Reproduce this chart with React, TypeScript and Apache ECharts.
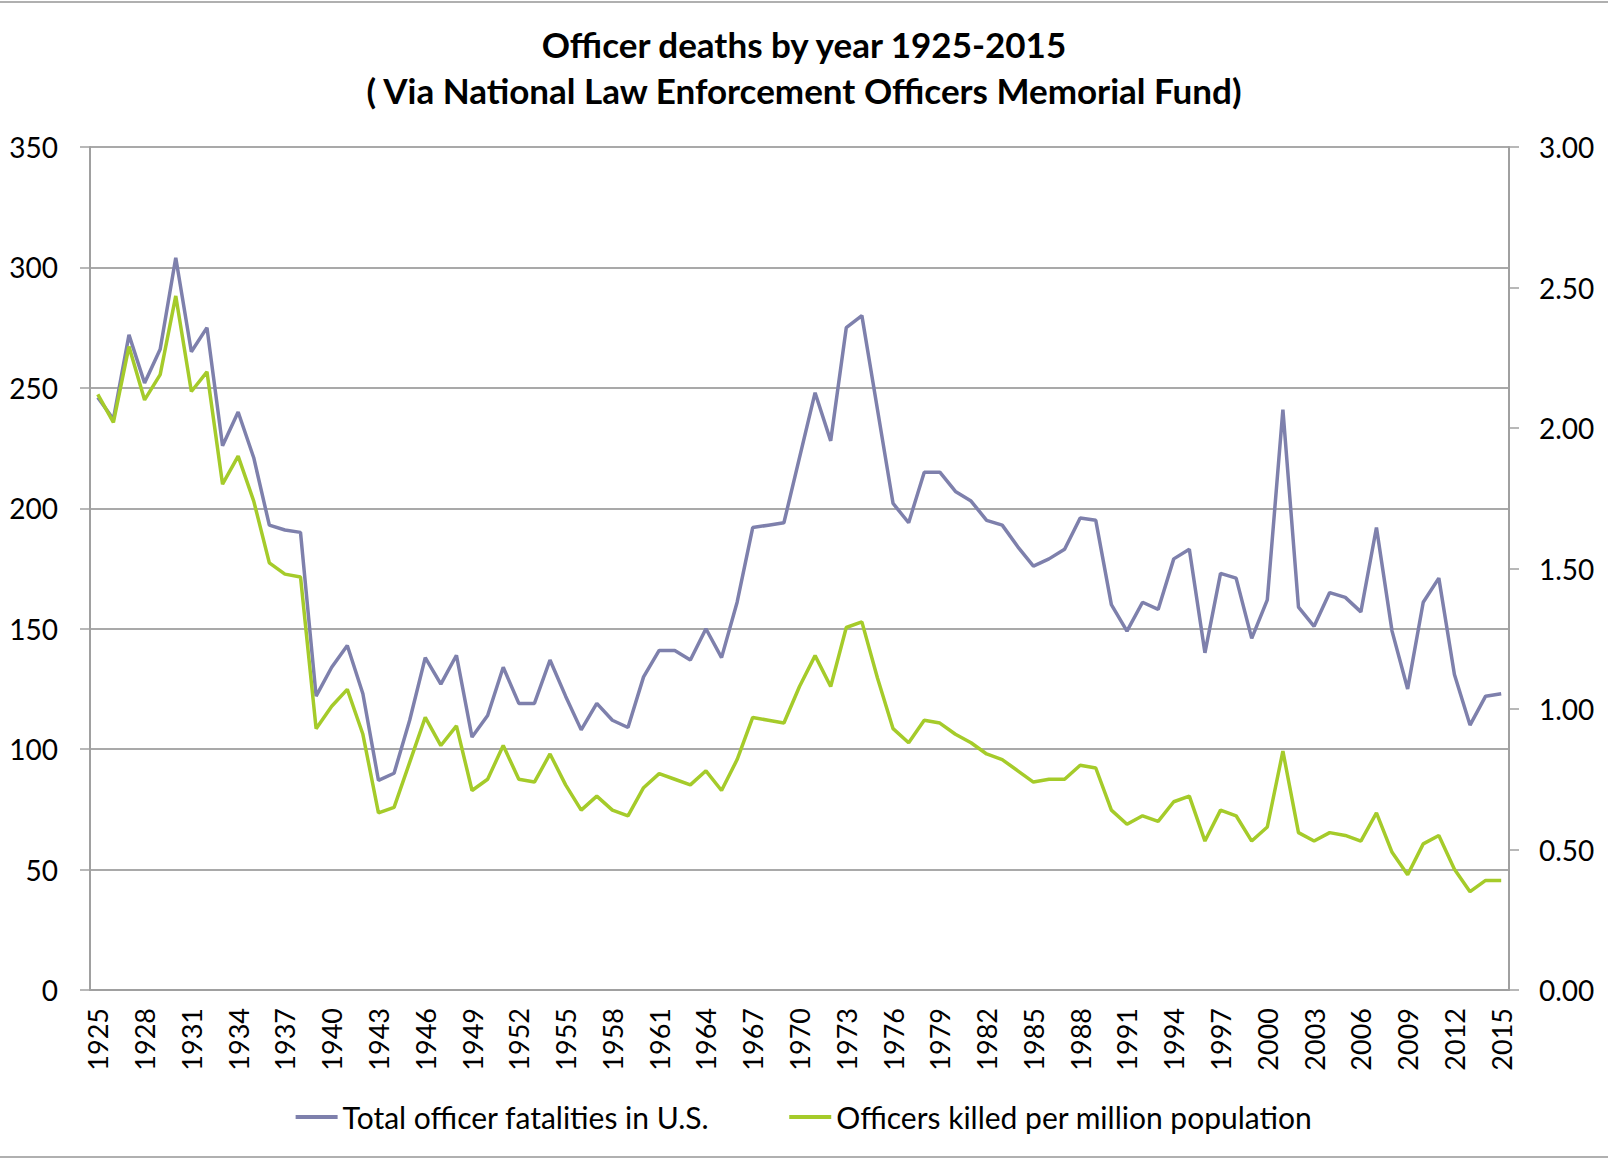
import React, { useEffect, useRef } from "react";
import * as echarts from "echarts";

const years: string[] = [];
for (let y = 1925; y <= 2015; y++) years.push(String(y));

const totalFatalities = [
  246, 237, 272, 252, 266, 304, 265, 275, 226, 240,
  221, 193, 191, 190, 122, 134, 143, 123, 87, 90,
  112, 138, 127, 139, 105, 114, 134, 119, 119, 137,
  122, 108, 119, 112, 109, 130, 141, 141, 137, 150,
  138, 161, 192, 193, 194, 221, 248, 228, 275, 280,
  241, 202, 194, 215, 215, 207, 203, 195, 193, 184,
  176, 179, 183, 196, 195, 160, 149, 161, 158, 179,
  183, 140, 173, 171, 146, 162, 241, 159, 151, 165,
  163, 157, 192, 149, 125, 161, 171, 131, 110, 122,
  123,
];

const perMillion = [
  2.12, 2.02, 2.29, 2.10, 2.19, 2.47, 2.13, 2.20, 1.80, 1.90,
  1.74, 1.52, 1.48, 1.47, 0.93, 1.01, 1.07, 0.91, 0.63, 0.65,
  0.81, 0.97, 0.87, 0.94, 0.71, 0.75, 0.87, 0.75, 0.74, 0.84,
  0.73, 0.64, 0.69, 0.64, 0.62, 0.72, 0.77, 0.75, 0.73, 0.78,
  0.71, 0.82, 0.97, 0.96, 0.95, 1.08, 1.19, 1.08, 1.29, 1.31,
  1.11, 0.93, 0.88, 0.96, 0.95, 0.91, 0.88, 0.84, 0.82, 0.78,
  0.74, 0.75, 0.75, 0.80, 0.79, 0.64, 0.59, 0.62, 0.60, 0.67,
  0.69, 0.53, 0.64, 0.62, 0.53, 0.58, 0.85, 0.56, 0.53, 0.56,
  0.55, 0.53, 0.63, 0.49, 0.41, 0.52, 0.55, 0.43, 0.35, 0.39,
  0.39,
];

const seriesNames = ["Total officer fatalities in U.S.", "Officers killed per million population"];
const titleText = "Officer deaths by year 1925-2015\n( Via National Law Enforcement Officers Memorial Fund)";

const FONT = "Lato, 'Open Sans', sans-serif";

export default function App() {
  const ref = useRef<HTMLDivElement>(null);
  useEffect(() => {
    if (!ref.current) return;
    const chart = echarts.init(ref.current, null, { renderer: "svg" });
    chart.setOption({
      animation: false,
      backgroundColor: "#ffffff",
      textStyle: { fontFamily: FONT },
      title: {
        text: titleText,
        left: "center",
        top: 16,
        textStyle: {
          fontFamily: FONT,
          fontWeight: "bold",
          fontSize: 35,
          lineHeight: 46,
          color: "#000",
        },
      },
      legend: {
        bottom: 23,
        left: "center",
        icon: "rect",
        itemWidth: 42,
        itemHeight: 4,
        itemGap: 80,
        textStyle: { fontFamily: FONT, fontSize: 30, color: "#000" },
        data: seriesNames,
      },
      grid: {
        left: 90,
        right: 99,
        top: 147,
        bottom: 170,
        outerBoundsMode: "none",
      },
      xAxis: {
        type: "category",
        data: years,
        boundaryGap: true,
        axisLine: { lineStyle: { color: "#a0a0a0", width: 2 } },
        axisTick: { interval: 0, length: 8, lineStyle: { color: "#a0a0a0", width: 1.5 } },
        axisLabel: {
          interval: 2,
          rotate: 90,
          margin: 18,
          fontSize: 27,
          fontFamily: FONT,
          color: "#000",
        },
        splitLine: { show: false },
      },
      yAxis: [
        {
          type: "value",
          min: 0,
          max: 350,
          interval: 50,
          axisLine: { show: true, lineStyle: { color: "#a0a0a0", width: 2 } },
          axisTick: { show: true, length: 10, lineStyle: { color: "#a0a0a0", width: 1.5 } },
          axisLabel: { margin: 32, fontSize: 28, fontFamily: FONT, color: "#000" },
          splitLine: { show: true, lineStyle: { color: "#8c8c8c", width: 1.5 } },
        },
        {
          type: "value",
          min: 0,
          max: 3,
          interval: 0.5,
          position: "right",
          axisLine: { show: true, lineStyle: { color: "#a0a0a0", width: 2 } },
          axisTick: { show: true, length: 10, lineStyle: { color: "#a0a0a0", width: 1.5 } },
          axisLabel: {
            margin: 30,
            fontSize: 28,
            fontFamily: FONT,
            color: "#000",
            formatter: (v: number) => v.toFixed(2),
          },
          splitLine: { show: false },
        },
      ],
      series: [
        {
          name: seriesNames[0],
          type: "line",
          yAxisIndex: 0,
          data: totalFatalities,
          symbol: "none",
          itemStyle: { color: "#7E80AC" },
          lineStyle: { color: "#7E80AC", width: 3.5 },
        },
        {
          name: seriesNames[1],
          type: "line",
          yAxisIndex: 1,
          data: perMillion,
          symbol: "none",
          itemStyle: { color: "#A5CB2A" },
          lineStyle: { color: "#A5CB2A", width: 3.5 },
        },
      ],
      graphic: [
        { type: "line", shape: { x1: 0, y1: 2, x2: 1608, y2: 2 }, style: { stroke: "#b0b0b0", lineWidth: 2 } },
        { type: "line", shape: { x1: 0, y1: 1157, x2: 1608, y2: 1157 }, style: { stroke: "#b0b0b0", lineWidth: 2 } },
      ],
    });
    return () => chart.dispose();
  }, []);
  return (
    <div
      ref={ref}
      style={{ position: "fixed", left: 0, top: 0, width: 1608, height: 1160 }}
    />
  );
}
